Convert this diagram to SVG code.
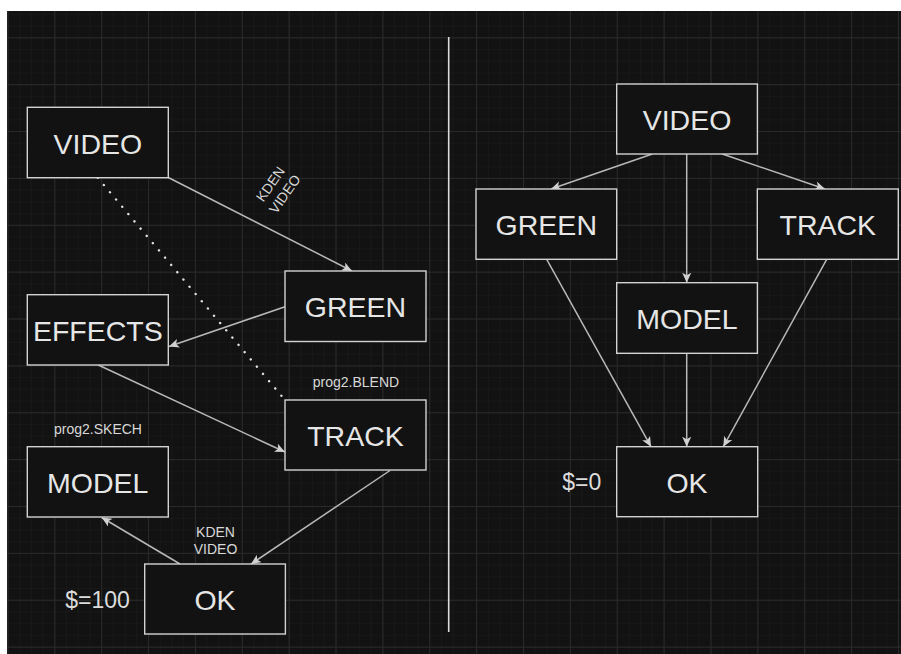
<svg xmlns="http://www.w3.org/2000/svg" width="901" height="654" viewBox="0 0 901 654">
<defs>
<pattern id="minor" patternUnits="userSpaceOnUse" x="7.43" y="2.17" width="11.7175" height="11.7175">
<path d="M0,0 V11.7175 M0,0 H11.7175" fill="none" stroke="#1c1c1c" stroke-width="1"/>
</pattern>
<pattern id="major" patternUnits="userSpaceOnUse" x="7.43" y="37.3" width="46.87" height="46.87">
<path d="M0.5,0 V46.87 M0,0.5 H46.87" fill="none" stroke="#2a2a2a" stroke-width="1"/>
</pattern>
<marker id="arr" markerUnits="userSpaceOnUse" markerWidth="11" markerHeight="10" refX="10" refY="4.5" orient="auto" viewBox="0 0 11 10">
<path d="M0,0 L10,4.5 L0,9 L2.5,4.5 Z" fill="#d0d0d0"/>
</marker>
</defs>
<style>
.box{fill:#121212;stroke:#d2d2d2;stroke-width:1.4}
.lbl{font-family:"Liberation Sans",Arial,sans-serif;font-size:28.5px;fill:#e6e6e6;text-anchor:middle}
.small{font-family:"Liberation Sans",Arial,sans-serif;font-size:14px;fill:#d8d8d8;text-anchor:middle}
.val{font-family:"Liberation Sans",Arial,sans-serif;font-size:23px;fill:#dcdcdc;text-anchor:middle}
.edge{fill:none;stroke:#b8b8b8;stroke-width:1.5}
</style>
<rect x="0" y="0" width="901" height="654" fill="#ffffff"/>
<rect x="7" y="11" width="894" height="643" fill="#121212"/>
<rect x="7" y="11" width="894" height="643" fill="url(#minor)"/>
<rect x="7" y="11" width="894" height="643" fill="url(#major)"/>
<line x1="448.7" y1="37" x2="448.7" y2="632" stroke="#dcdcdc" stroke-width="1.6"/>
<g id="connectors">
<line class="edge" x1="168.3" y1="177.5" x2="352" y2="271" marker-end="url(#arr)"/>
<line x1="97.7" y1="177.7" x2="285" y2="400" stroke="#e0e0e0" stroke-width="2.4" stroke-linecap="round" stroke-dasharray="0.1 9.4"/>
<line class="edge" x1="285" y1="306.7" x2="169" y2="346.5" marker-end="url(#arr)"/>
<line class="edge" x1="98.3" y1="365" x2="285" y2="452" marker-end="url(#arr)"/>
<line class="edge" x1="390" y1="470.5" x2="251" y2="564" marker-end="url(#arr)"/>
<line class="edge" x1="180" y1="564" x2="101.7" y2="517.5" marker-end="url(#arr)"/>
<line class="edge" x1="652.3" y1="154" x2="551" y2="189" marker-end="url(#arr)"/>
<line class="edge" x1="722.3" y1="154" x2="825" y2="189" marker-end="url(#arr)"/>
<line class="edge" x1="686.7" y1="154" x2="686.7" y2="282.7" marker-end="url(#arr)"/>
<line class="edge" x1="546.7" y1="259.3" x2="651" y2="446.7" marker-end="url(#arr)"/>
<line class="edge" x1="686.7" y1="353.3" x2="686.7" y2="446.7" marker-end="url(#arr)"/>
<line class="edge" x1="826.7" y1="259.3" x2="723.3" y2="446.7" marker-end="url(#arr)"/>
</g>
<g id="label-kden-video-top">
<text class="small" transform="translate(277.5,189) rotate(-55)"><tspan x="0" y="-3.75">KDEN</tspan><tspan x="0" y="13.75">VIDEO</tspan></text>
</g>
<g id="label-kden-video-bottom">
<text class="small"><tspan x="215.5" y="536.7">KDEN</tspan><tspan x="215.5" y="554.2">VIDEO</tspan></text>
</g>
<g id="label-blend"><text class="small" x="356" y="387.3">prog2.BLEND</text></g>
<g id="label-skech"><text class="small" x="98" y="434">prog2.SKECH</text></g>
<g id="label-100"><text class="val" x="97.5" y="607.5">$=100</text></g>
<g id="label-0"><text class="val" x="581.7" y="490">$=0</text></g>
<g id="video-left"><rect class="box" x="27.3" y="107.3" width="141" height="70.4"/><text class="lbl" x="97.8" y="153.5">VIDEO</text></g>
<g id="green-left"><rect class="box" x="285" y="271" width="141" height="70.5"/><text class="lbl" x="355.5" y="317.2">GREEN</text></g>
<g id="effects-left"><rect class="box" x="27.3" y="294.7" width="141" height="70.3"/><text class="lbl" x="97.8" y="340.8">EFFECTS</text></g>
<g id="track-left"><rect class="box" x="285" y="400" width="141" height="70"/><text class="lbl" x="355.5" y="446">TRACK</text></g>
<g id="model-left"><rect class="box" x="27.3" y="446.7" width="141" height="70.3"/><text class="lbl" x="97.8" y="492.8">MODEL</text></g>
<g id="ok-left"><rect class="box" x="144.7" y="564" width="140.7" height="70"/><text class="lbl" x="215" y="610">OK</text></g>
<g id="video-right"><rect class="box" x="616.7" y="84" width="140.7" height="70"/><text class="lbl" x="687" y="130">VIDEO</text></g>
<g id="green-right"><rect class="box" x="476" y="189" width="140.7" height="70.3"/><text class="lbl" x="546.3" y="235.2">GREEN</text></g>
<g id="track-right"><rect class="box" x="757.3" y="189" width="141" height="70.3"/><text class="lbl" x="827.8" y="235.2">TRACK</text></g>
<g id="model-right"><rect class="box" x="616.7" y="282.7" width="140.7" height="70.6"/><text class="lbl" x="687" y="329">MODEL</text></g>
<g id="ok-right"><rect class="box" x="616.7" y="446.7" width="141" height="70"/><text class="lbl" x="687" y="492.7">OK</text></g>
</svg>
